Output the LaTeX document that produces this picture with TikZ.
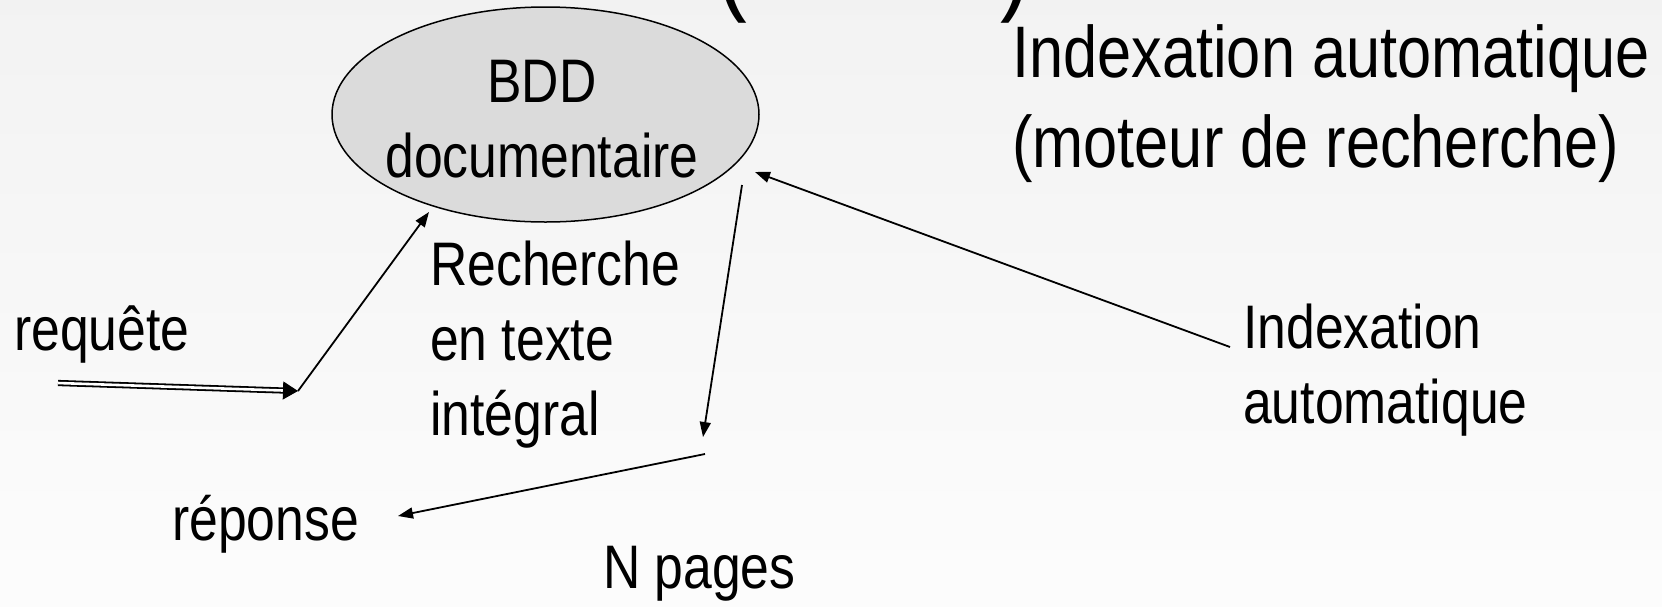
\documentclass[tikz,border=0pt]{standalone}
\usepackage{fontspec}
\setmainfont{Liberation Sans}
\newfontfamily\narrowfont[FakeStretch=0.84]{Liberation Sans}
\usetikzlibrary{shapes.geometric,arrows.meta,calc}
\begin{document}
\begin{tikzpicture}[x=1pt,y=-1pt,
  txt/.style={font=\narrowfont\fontsize{61.5}{75}\selectfont, inner sep=0pt, anchor=base west, align=left},
  big/.style={font=\narrowfont\fontsize{73}{90}\selectfont, inner sep=0pt, anchor=base west, align=left},
  paren/.style={font=\narrowfont\fontsize{110}{120}\selectfont, inner sep=0pt, anchor=base west},
  conn/.style={line width=1.8pt, -{Triangle[length=15pt,width=11pt]}},
  bddshape/.style={ellipse, draw, line width=1.5pt, fill=black!14, minimum width=427pt, minimum height=215pt, inner sep=0pt}
]
\useasboundingbox (0,0) rectangle (1662,606);
\clip (0,0) rectangle (1662,606);
\shade[top color=black!5, bottom color=black!1] (0,0) rectangle (1662,606);

% clipped title parentheses
\node[paren] (lpar) at (716,0) {(};
\node[paren] (rpar) at (1000,0) {)};

% database ellipse
\node[bddshape] (bdd) at (545.5,114.5) {};
\node[txt, align=center, anchor=base] (bddtxt) at (542,177) {BDD\\documentaire};

% texts (multi-line nodes anchored at the baseline of their last line)
\node[big] (titre) at (1012,167) {Indexation automatique\\(moteur de recherche)};
\node[txt] (req) at (14,350) {requête};
\node[txt] (rech) at (430,435) {Recherche\\en texte\\intégral};
\node[txt] (idx) at (1243,423) {Indexation\\automatique};
\node[txt] (rep) at (172,540) {réponse};
\node[txt] (npages) at (603,588) {N pages};

% connector end points
\coordinate (q0) at (58,383);
\coordinate (q1) at (298,391);
\coordinate (qin) at (429,212);
\coordinate (out0) at (742,185);
\coordinate (out1) at (703,437);
\coordinate (ix0) at (1230,347);
\coordinate (ix1) at (755,172);
\coordinate (rp0) at (705,454);
\coordinate (rp1) at (398,516);

% requete double arrow
\draw[double, double distance=2.6pt, line width=1.8pt, shorten >=12pt] (q0) -- (q1);
\draw[line width=1pt, -{Triangle[length=15pt,width=18pt]}] ($(q1)!14pt!(q0)$) -- (q1);

% other connectors
\draw[conn] (q1) -- (qin);
\draw[conn] (out0) -- (out1);
\draw[conn] (ix0) -- (ix1);
\draw[conn] (rp0) -- (rp1);
\end{tikzpicture}
\end{document}
